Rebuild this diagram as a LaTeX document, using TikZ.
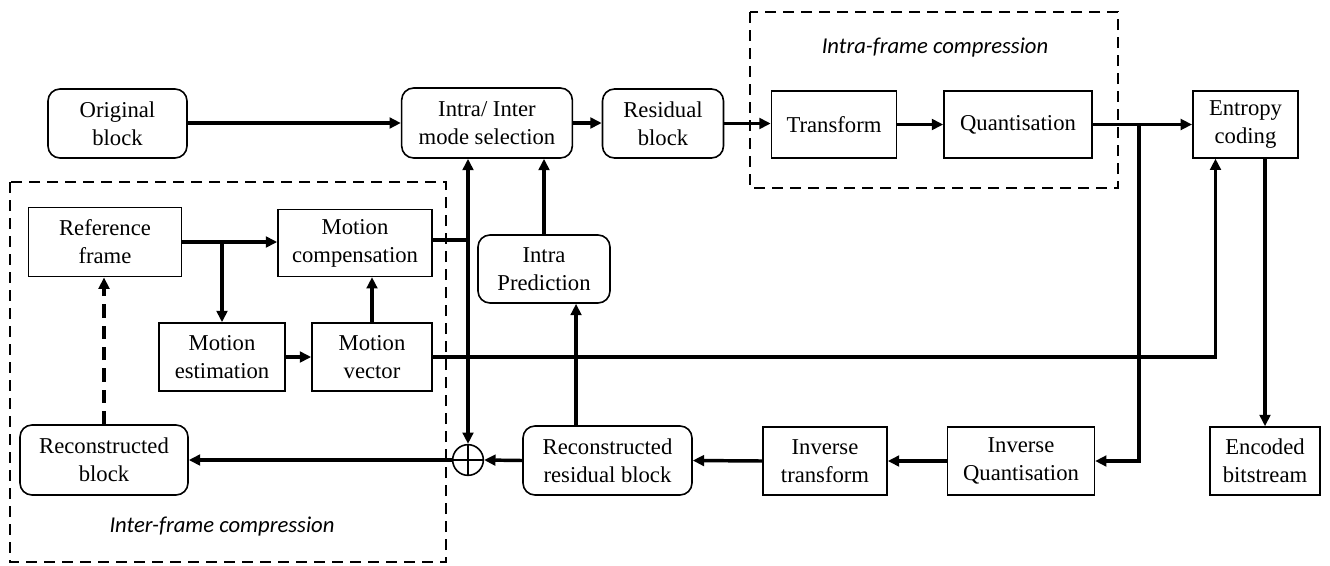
\documentclass[tikz,border=0pt]{standalone}
\usepackage{fontspec}
\setmainfont{Liberation Serif}
\newfontfamily\captfont{Carlito}
\usetikzlibrary{arrows.meta, positioning, calc}

\begin{document}
\begin{tikzpicture}[x=0.75pt, y=-0.75pt,
    box/.style={rectangle, draw, line width=1.2pt, align=center, inner sep=0pt, font=\fontsize{17}{21}\selectfont},
    rbox/.style={box, rounded corners=9pt},
    arrow/.style={-{Triangle[length=8.5pt,width=8pt]}, line width=2.6pt},
    line/.style={line width=2.6pt},
    group/.style={line width=1.6pt, dash pattern=on 8.5pt off 5pt},
    caption/.style={font=\captfont\itshape\fontsize{17}{20}\selectfont}
]
    \useasboundingbox (0,0) rectangle (1330,565);

    % Groups
    \draw[group] (750,12) rectangle (1118,188);
    \draw[group] (10,182) rectangle (446,562);
    \node[caption] (intracap) at (935,48) {Intra-frame compression};
    \node[caption] (intercap) at (222,527) {Inter-frame compression};

    % Top row
    \node[rbox, minimum width=104.25pt, minimum height=51.75pt] (orig) at (117.5,123.5) {Original\\block};
    \node[rbox, minimum width=128pt, minimum height=52.5pt] (mode) at (487,123) {Intra/ Inter\\mode selection};
    \node[rbox, minimum width=90.75pt, minimum height=51.75pt] (resid) at (663,123.5) {Residual\\block};
    \node[box, minimum width=93.75pt, minimum height=50pt] (transform) at (834,124.5) {Transform};
    \node[box, minimum width=111pt, minimum height=50pt] (quant) at (1018,124.5) {Quantisation};
    \node[box, minimum width=79pt, minimum height=50pt] (entropy) at (1245.5,124.5) {Entropy\\coding};

    % Inter-frame part
    \node[box, minimum width=115pt, minimum height=52pt] (ref) at (105,242) {Reference\\frame};
    \node[box, minimum width=115.5pt, minimum height=50pt] (mcomp) at (355,243) {Motion\\compensation};
    \node[box, minimum width=94.5pt, minimum height=51pt] (mest) at (222,357) {Motion\\estimation};
    \node[box, minimum width=90pt, minimum height=51pt] (mvec) at (372,357) {Motion\\vector};
    \node[rbox, minimum width=99pt, minimum height=51pt] (intrap) at (544,269) {Intra\\Prediction};

    % Bottom row
    \node[rbox, minimum width=126pt, minimum height=52.5pt] (recblk) at (104,460) {Reconstructed\\block};
    \node[circle, draw, line width=1.2pt, minimum size=23pt, inner sep=0pt] (adder) at (468,460) {};
    \draw[line width=1.2pt] (adder.north) -- (adder.south);
    \draw[line width=1.2pt] (adder.west) -- (adder.east);
    \node[rbox, minimum width=126.75pt, minimum height=51.75pt] (recres) at (607.5,460.5) {Reconstructed\\residual block};
    \node[box, minimum width=93pt, minimum height=51pt] (invt) at (825,461) {Inverse\\transform};
    \node[box, minimum width=110pt, minimum height=51pt] (invq) at (1021,461) {Inverse\\Quantisation};
    \node[box, minimum width=82.5pt, minimum height=51pt] (encoded) at (1265,461) {Encoded\\bitstream};

    % Junctions
    \coordinate (qj) at (1139,124);
    \coordinate (mj) at (468,240);

    % Arrows
    \draw[arrow] (orig.east |- mode.east) -- (mode.east -| mode.west);
    \draw[arrow] (mode.east) -- (resid.west |- mode.east);
    \draw[arrow] (resid.east) -- (transform.west |- resid.east);
    \draw[arrow] (transform.east) -- (quant.west);
    \draw[arrow] (quant.east |- entropy.west) -- (entropy.west);
    \draw[arrow] (qj) |- (invq.east);
    \draw[arrow] (entropy.south -| encoded.north) -- (encoded.north);
    \draw[arrow] (mvec.east) -- ([xshift=-22.5pt]entropy.south |- mvec.east) -- ([xshift=-22.5pt]entropy.south);
    \draw[line] (mcomp.east |- mj) -- (mj);
    \draw[arrow] (mj) -- (mj |- mode.south);
    \draw[arrow] (mj) -- (adder.north);
    \draw[arrow] (intrap.north) -- (intrap.north |- mode.south);
    \draw[arrow] ([xshift=-23.6pt]recres.north) -- ([xshift=-23.6pt]recres.north |- intrap.south);
    \draw[arrow] (recres.west) -- (adder.east);
    \draw[arrow] (adder.west) -- (recblk.east);
    \draw[arrow] (invq.west) -- (invt.east);
    \draw[arrow] (invt.west) -- (recres.east);
    \draw[arrow] (ref.east) -- (mcomp.west |- ref.east);
    \draw[arrow] (mest.north |- ref.east) -- (mest.north);
    \draw[arrow] (mest.east) -- (mvec.west);
    \draw[arrow] (mvec.north) -- (mvec.north |- mcomp.south);
    \draw[arrow, dash pattern=on 10pt off 6pt] (recblk.north) -- (recblk.north |- ref.south);

\end{tikzpicture}
\end{document}
